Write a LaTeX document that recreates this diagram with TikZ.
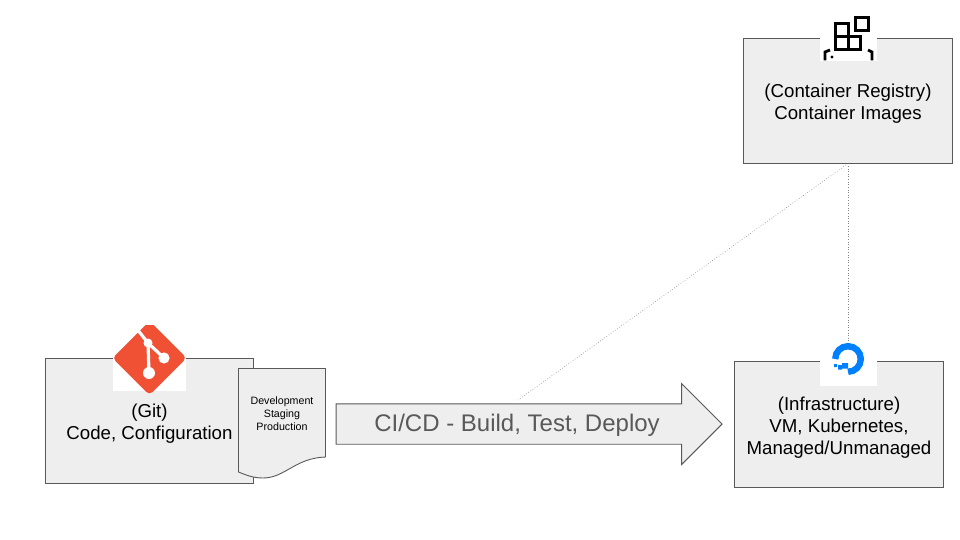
\documentclass[tikz,border=0pt]{standalone}
\usepackage{fontspec}
\setmainfont{Liberation Sans}
\usepackage{xcolor}
\usetikzlibrary{shapes.arrows}
\definecolor{boxgray}{HTML}{EEEEEE}
\definecolor{edgegray}{HTML}{595959}
\definecolor{gitred}{HTML}{F05033}
\definecolor{oceanblue}{HTML}{0080FF}
\newcommand{\boxstrut}{\rule{0pt}{19.6pt}}
\tikzset{
  box/.style={draw=edgegray, fill=boxgray, line width=0.9pt, minimum width=209pt, minimum height=125pt,
              inner sep=0pt, align=center, font=\fontsize{18.67}{22}\selectfont, text=black},
  doclabel/.style={align=center, inner sep=0pt, font=\fontsize{10.67}{13}\selectfont, text=black},
  pipe/.style={single arrow, draw=edgegray, fill=boxgray, line width=0.9pt, inner sep=0pt,
               minimum height=386pt, single arrow head extend=20.25pt, single arrow tip angle=90},
  pipelabel/.style={inner sep=0pt, font=\fontsize{24}{28}\selectfont, text=edgegray},
  dotline/.style={dotted, line width=0.6pt, edgegray!75},
  iconline/.style={black, line width=3pt},
}
\begin{document}
\begin{tikzpicture}[x=1pt,y=-1pt]
  \useasboundingbox (0,0) rectangle (960,540);
  \fill[white] (0,0) rectangle (960,540);
  % links
  \coordinate (regfoot) at (848,163.5);
  \coordinate (infratop) at (848,345);
  \coordinate (pipetop) at (518,400);
  \draw[dotline] (regfoot) -- (infratop);
  \draw[dotline] (regfoot) -- (pipetop);
  % boxes
  \node[box] (registry) at (848,101) {\boxstrut(Container Registry)\\Container Images};
  \node[box, minimum width=208pt] (git) at (149.5,421) {\boxstrut(Git)\\Code, Configuration};
  \node[box, minimum height=126pt] (infra) at (839,424.5) {\boxstrut(Infrastructure)\\VM, Kubernetes,\\Managed/Unmanaged};
  % git logo
  \fill[white] (113,325) rectangle (186,391);
  \begin{scope}
    \clip (100,325) rectangle (200,395);
    \fill[gitred, rounded corners=4pt] (149.5,321) -- (186.5,358) -- (149.5,395) -- (112.5,358) -- cycle;
    \draw[white, line width=3.2pt] (137,329) -- (148,343) -- (164,358);
    \draw[white, line width=3.2pt] (148,343) -- (149,373);
    \fill[white] (148,343) circle (4.5pt) (164,358) circle (5.6pt) (149,373) circle (6pt);
  \end{scope}
  % document
  \draw[draw=edgegray, fill=boxgray, line width=0.9pt] (238.5,368.5) -- (325.5,368.5) -- (325.5,457)
    .. controls (295,458) and (285,478) .. (263,478) .. controls (253,478) and (246,475) .. (238.5,472) -- cycle;
  \node[doclabel] (envs) at (282,414) {Development\\Staging\\Production};
  % pipeline
  \node[pipe] (pipeline) at (519,424) {\rule{0pt}{39.5pt}};
  \node[pipelabel] (pipetext) at (517,425) {CI/CD - Build, Test, Deploy};
  % registry icon
  \fill[white] (820,30) rectangle (877,61);
  \draw[iconline] (835,24) rectangle (848,37) (835,37) rectangle (848,49.5) (848,37) rectangle (860.5,49.5);
  \draw[iconline] (855.5,17.5) rectangle (868,30.5);
  \draw[black, line width=2.8pt] (825,60.5) -- (825,52) -- (830,50);
  \draw[black, line width=2.8pt] (872,60.5) -- (872,52) -- (868,50);
  \fill[black] (832,57) circle (1.6pt);
  % infrastructure icon
  \fill[white] (820,342) rectangle (877,386);
  \draw[oceanblue, line width=6.4pt] (835.2,359) arc[start angle=180, end angle=-90, radius=12.8pt];
  \fill[oceanblue] (842,363) rectangle (848,368.5) (838,365) rectangle (842,369.5) (834,364) rectangle (837,367);
\end{tikzpicture}
\end{document}
